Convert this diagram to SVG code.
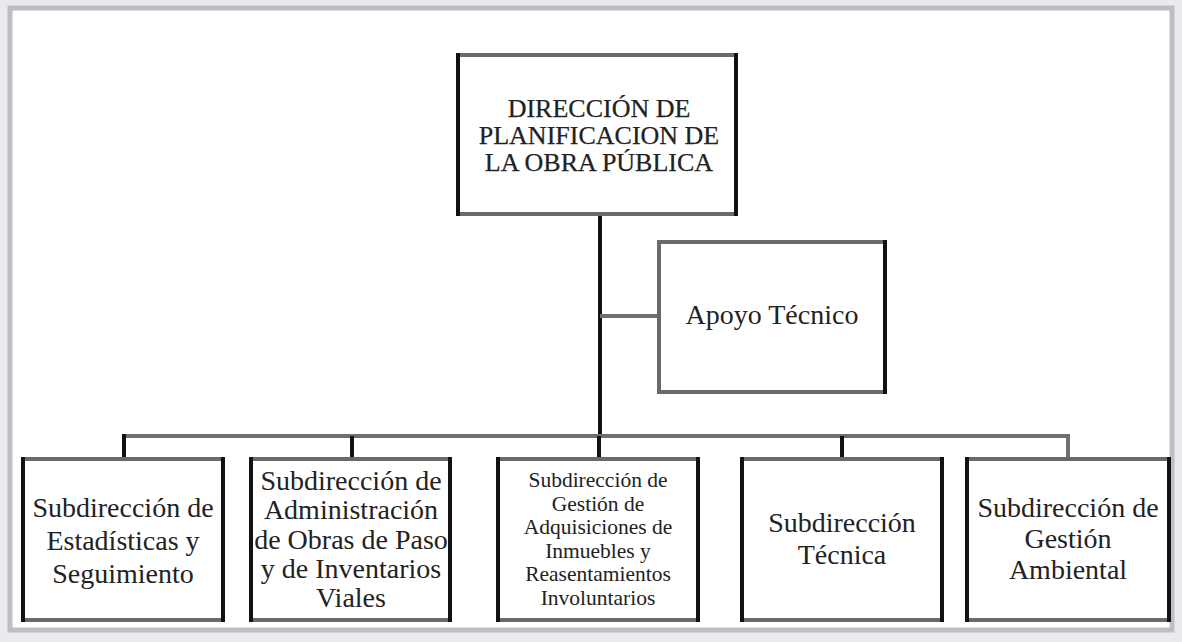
<svg xmlns="http://www.w3.org/2000/svg" width="1182" height="642" viewBox="0 0 1182 642">
<style>
.box{fill:#ffffff;stroke:#6a6a6e;stroke-width:4}
.side{stroke:#111;stroke-width:4}
.t{font-family:"Liberation Serif","Times New Roman",serif;fill:#222;text-anchor:middle}
.big{font-size:28px}
.mid{font-size:21.5px}
.hd{font-size:26px;stroke:#222;stroke-width:0.25}
.dark{stroke:#111;stroke-width:4;fill:none}
.gray{stroke:#6f6f72;stroke-width:4;fill:none}
</style>
<rect x="0" y="0" width="1182" height="642" fill="#e9e9ee"/>
<rect x="10" y="8" width="1162" height="622" fill="#ffffff" stroke="#bdbdc6" stroke-width="5"/>
<g id="connectors">
<line class="dark" x1="600" y1="215" x2="600" y2="436"/>
<line class="gray" x1="600" y1="316" x2="659" y2="316"/>
<line class="gray" x1="122" y1="436" x2="1070" y2="436"/>
<line class="dark" x1="124" y1="434" x2="124" y2="459"/>
<line class="dark" x1="352" y1="436" x2="352" y2="459"/>
<line class="dark" x1="599" y1="436" x2="599" y2="459"/>
<line class="dark" x1="842" y1="436" x2="842" y2="459"/>
<line class="gray" x1="1068" y1="434" x2="1068" y2="459"/>
</g>
<g id="n-direccion">
<rect class="box" x="458" y="55" width="278" height="159"/>
<line class="side" x1="458" y1="53" x2="458" y2="216"/>
<line class="side" x1="736" y1="53" x2="736" y2="216"/>
<text class="t hd" x="599" y="117">DIRECCIÓN DE</text>
<text class="t hd" x="599" y="144">PLANIFICACION DE</text>
<text class="t hd" x="599" y="171">LA OBRA PÚBLICA</text>
</g>
<g id="n-apoyo">
<rect class="box" x="659" y="242" width="226" height="150"/>
<line class="side" x1="885" y1="240" x2="885" y2="394"/>
<text class="t big" x="772" y="324">Apoyo Técnico</text>
</g>
<g id="n-estadisticas">
<rect class="box" x="23" y="459" width="200" height="161"/>
<line class="side" x1="23" y1="457" x2="23" y2="622"/>
<line class="side" x1="223" y1="457" x2="223" y2="622"/>
<text class="t big" x="123" y="517">Subdirección de</text>
<text class="t big" x="123" y="550">Estadísticas y</text>
<text class="t big" x="123" y="583">Seguimiento</text>
</g>
<g id="n-administracion">
<rect class="box" x="251" y="459" width="199" height="161"/>
<line class="side" x1="251" y1="457" x2="251" y2="622"/>
<line class="side" x1="450" y1="457" x2="450" y2="622"/>
<text class="t big" x="351" y="490">Subdirección de</text>
<text class="t big" x="351" y="519">Administración</text>
<text class="t big" x="351" y="549">de Obras de Paso</text>
<text class="t big" x="351" y="578">y de Inventarios</text>
<text class="t big" x="351" y="607">Viales</text>
</g>
<g id="n-adquisiciones">
<rect class="box" x="498" y="459" width="200" height="161"/>
<line class="side" x1="498" y1="457" x2="498" y2="622"/>
<line class="side" x1="698" y1="457" x2="698" y2="622"/>
<text class="t mid" x="598" y="487">Subdirección de</text>
<text class="t mid" x="598" y="511">Gestión de</text>
<text class="t mid" x="598" y="534">Adquisiciones de</text>
<text class="t mid" x="598" y="558">Inmuebles y</text>
<text class="t mid" x="598" y="581">Reasentamientos</text>
<text class="t mid" x="598" y="605">Involuntarios</text>
</g>
<g id="n-tecnica">
<rect class="box" x="742" y="459" width="200" height="161"/>
<line class="side" x1="742" y1="457" x2="742" y2="622"/>
<line class="side" x1="942" y1="457" x2="942" y2="622"/>
<text class="t big" x="842" y="532">Subdirección</text>
<text class="t big" x="842" y="564">Técnica</text>
</g>
<g id="n-ambiental">
<rect class="box" x="967" y="459" width="202" height="161"/>
<line class="side" x1="967" y1="457" x2="967" y2="622"/>
<line class="side" x1="1169" y1="457" x2="1169" y2="622"/>
<text class="t big" x="1068" y="517">Subdirección de</text>
<text class="t big" x="1068" y="548">Gestión</text>
<text class="t big" x="1068" y="579">Ambiental</text>
</g>
</svg>
